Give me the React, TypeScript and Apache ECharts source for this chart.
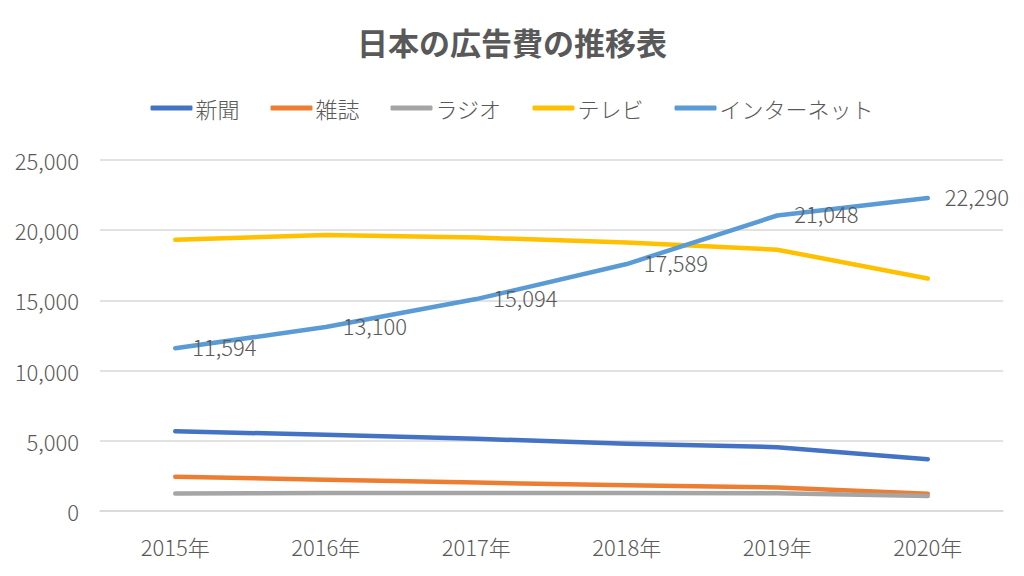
import React, { useEffect, useRef } from "react";
import * as echarts from "echarts";

const years = ["2015年", "2016年", "2017年", "2018年", "2019年", "2020年"];
const newspaper = [5679, 5431, 5147, 4784, 4547, 3688];
const magazine = [2443, 2223, 2023, 1841, 1675, 1223];
const radio = [1254, 1285, 1290, 1278, 1260, 1066];
const tv = [19323, 19657, 19478, 19123, 18612, 16559];
const internet = [11594, 13100, 15094, 17589, 21048, 22290];

const FONT = "'Noto Sans CJK JP', 'Noto Sans', sans-serif";
const TXT = "#595959";

export default function App() {
  const ref = useRef<HTMLDivElement>(null);
  useEffect(() => {
    if (!ref.current) return;
    const chart = echarts.init(ref.current, undefined, { renderer: "svg" });
    const mk = (name: string, data: number[], color: string, label = false) => ({
      name,
      type: "line",
      data,
      symbol: "circle",
      symbolSize: 0,
      lineStyle: { color, width: 4.5, cap: "round", join: "round" },
      itemStyle: { color },
      label: label
        ? {
            show: true,
            position: "right",
            distance: 17,
            offset: [0, -2],
            color: TXT,
            fontSize: 22,
            fontWeight: 300,
            fontFamily: FONT,
            formatter: (p: any) => p.value.toLocaleString("en-US"),
          }
        : { show: false },
    });
    chart.setOption({
      animation: false,
      textStyle: { fontFamily: FONT },
      title: {
        text: "日本の広告費の推移表",
        left: "center",
        top: 21,
        textStyle: { fontSize: 31, fontWeight: "bold", color: TXT, fontFamily: FONT },
      },
      legend: {
        top: 92,
        left: "center",
        icon: "roundRect",
        itemWidth: 42,
        itemHeight: 5,
        itemGap: 31,
        textStyle: { fontSize: 22, fontWeight: 300, color: TXT, fontFamily: FONT, padding: [0, 0, 0, -2] },
        data: ["新聞", "雑誌", "ラジオ", "テレビ", "インターネット"],
      },
      grid: { left: 100, right: 21, top: 160, bottom: 65, containLabel: false },
      xAxis: {
        type: "category",
        data: years,
        boundaryGap: true,
        axisLine: { lineStyle: { color: "#D9D9D9", width: 1.5 } },
        axisTick: { show: false },
        axisLabel: { color: TXT, fontSize: 22, fontWeight: 300, margin: 24, fontFamily: FONT },
      },
      yAxis: {
        type: "value",
        min: 0,
        max: 25000,
        interval: 5000,
        axisLine: { show: false },
        axisTick: { show: false },
        splitLine: { lineStyle: { color: "#D9D9D9", width: 1.5 } },
        axisLabel: {
          color: TXT,
          fontSize: 22,
          fontWeight: 300,
          margin: 21,
          fontFamily: FONT,
          formatter: (v: number) => v.toLocaleString("en-US"),
        },
      },
      series: [
        mk("新聞", newspaper, "#4472C4"),
        mk("雑誌", magazine, "#ED7D31"),
        mk("ラジオ", radio, "#A5A5A5"),
        mk("テレビ", tv, "#FFC000"),
        mk("インターネット", internet, "#5B9BD5", true),
      ],
    });
    return () => chart.dispose();
  }, []);
  return (
    <div
      ref={ref}
      style={{ position: "fixed", left: 0, top: 0, width: 1024, height: 576, background: "#fff" }}
    />
  );
}
